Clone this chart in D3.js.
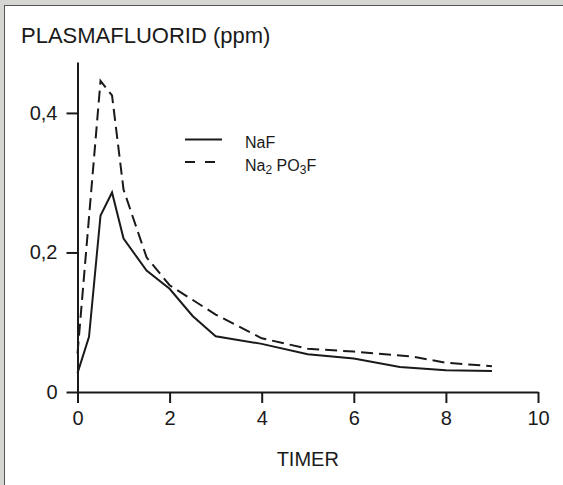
<!DOCTYPE html>
<html>
<head>
<meta charset="utf-8">
<script src="https://cdn.jsdelivr.net/npm/d3@7"></script>
<style>
	body { margin: 0; background: #d5d5d1; }
	#chart-area { position: absolute; left: 0; top: 0; }
	text { font-family: "Liberation Sans", Arial, sans-serif; fill: #1a1a1a; }
</style>
</head>
<body>
<div id="chart-area"></div>
<script>

// data
let timeNaF = [0, 0.25, 0.5, 0.75, 1, 1.5, 2, 2.5, 3, 4, 5, 6, 7, 8, 9];
let valNaF = [0.027, 0.079, 0.253, 0.286, 0.22, 0.174, 0.148, 0.109, 0.08, 0.069, 0.054, 0.048, 0.036, 0.031, 0.030];

let timeMFP = [0, 0.5, 0.75, 1, 1.5, 2, 3, 4, 5, 6, 7.25, 8, 9];
let valMFP = [0.055, 0.446, 0.425, 0.29, 0.193, 0.153, 0.111, 0.077, 0.062, 0.058, 0.051, 0.042, 0.037];

let xTicks = [0, 2, 4, 6, 8, 10];
let yTicks = [0, 0.2, 0.4];

let W = 563, H = 485;

let svg = d3.select("#chart-area").append("svg")
		.attr("width", W)
		.attr("height", H);

// white panel with dark top/left edge
svg.append("rect")
	.attr("x", 4.5).attr("y", 5.5)
	.attr("width", W).attr("height", H)
	.attr("fill", "#fff")
	.attr("stroke", "#555")
	.attr("stroke-width", 1);

// scales
let x = d3.scaleLinear().domain([0, 10]).range([77.5, 538]);
let y = d3.scaleLinear().domain([0, 0.473]).range([392, 62]);

let fmt = d => d === 0 ? "0" : String(d).replace(".", ",");

// x axis
let xAxis = svg.append("g")
	.attr("transform", "translate(0,392)")
	.call(d3.axisBottom(x).tickValues(xTicks).tickFormat(fmt).tickSize(11).tickSizeOuter(0).tickPadding(8));

// y axis
let yAxis = svg.append("g")
	.attr("transform", "translate(77.5,0)")
	.call(d3.axisLeft(y).tickValues(yTicks).tickFormat(fmt).tickSize(11).tickSizeOuter(0).tickPadding(9));

svg.selectAll(".domain, .tick line")
	.attr("stroke", "#1a1a1a")
	.attr("stroke-width", 2);
svg.selectAll(".tick text")
	.style("font-size", "20px")
	.attr("fill", "#1a1a1a");

// lines
let line = d3.line()
	.x(d => x(d[0]))
	.y(d => y(d[1]));

svg.append("path")
	.datum(d3.zip(timeMFP, valMFP))
	.attr("fill", "none")
	.attr("stroke", "#1a1a1a")
	.attr("stroke-width", 2)
	.attr("stroke-dasharray", "12,6")
	.attr("d", line);

svg.append("path")
	.datum(d3.zip(timeNaF, valNaF))
	.attr("fill", "none")
	.attr("stroke", "#1a1a1a")
	.attr("stroke-width", 2)
	.attr("d", line);

// titles
svg.append("text")
	.attr("x", 21).attr("y", 42.5)
	.style("font-size", "22px")
	.text("PLASMAFLUORID (ppm)");

svg.append("text")
	.attr("x", x(5)).attr("y", 466)
	.attr("text-anchor", "middle")
	.style("font-size", "20px")
	.text("TIMER");

// legend
let lg = svg.append("g");
lg.append("line")
	.attr("x1", 185).attr("x2", 222).attr("y1", 139.5).attr("y2", 139.5)
	.attr("stroke", "#1a1a1a").attr("stroke-width", 2);
lg.append("line")
	.attr("x1", 185).attr("x2", 217).attr("y1", 162).attr("y2", 162)
	.attr("stroke", "#1a1a1a").attr("stroke-width", 2)
	.attr("stroke-dasharray", "10,10");

lg.append("text")
	.attr("x", 245).attr("y", 148)
	.style("font-size", "16px")
	.text("NaF");

let t2 = lg.append("text")
	.attr("x", 245).attr("y", 170.5)
	.style("font-size", "16px");
t2.append("tspan").text("Na");
t2.append("tspan").attr("dy", 3).style("font-size", "12px").text("2");
t2.append("tspan").attr("dy", -3).text(" PO");
t2.append("tspan").attr("dy", 3).style("font-size", "12px").text("3");
t2.append("tspan").attr("dy", -3).text("F");

</script>
</body>
</html>
